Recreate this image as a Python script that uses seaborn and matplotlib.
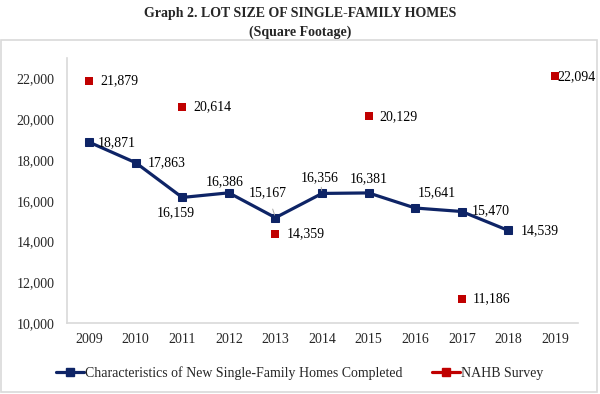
import matplotlib
matplotlib.use("Agg")
import matplotlib.pyplot as plt
import seaborn as sns
import pandas as pd
from matplotlib.patches import Rectangle
from matplotlib.lines import Line2D

years = [2009, 2010, 2011, 2012, 2013, 2014, 2015, 2016, 2017, 2018]
census_values = [18871, 17863, 16159, 16386, 15167, 16356, 16381, 15641, 15470, 14539]
nahb_years = [2009, 2011, 2013, 2015, 2017, 2019]
nahb_values = [21879, 20614, 14359, 20129, 11186, 22094]
tick_years = list(range(2009, 2020))
census_name = "Characteristics of New Single-Family Homes Completed"
nahb_name = "NAHB Survey"

sns.set_theme(style="white")
plt.rcParams["font.family"] = ["Liberation Serif", "DejaVu Serif"]

navy = "#0E2466"
red = "#C00000"

fig = plt.figure(figsize=(6.0, 3.94), dpi=100)
ax = fig.add_axes([0.112, 0.180, 0.851, 0.673])

df_c = pd.DataFrame({"year": years, "value": census_values})
df_n = pd.DataFrame({"year": nahb_years, "value": nahb_values})

sns.lineplot(data=df_c, x="year", y="value", ax=ax, color=navy, linewidth=2.3,
             marker="s", markersize=6, markeredgecolor=navy, sort=False)
sns.scatterplot(data=df_n, x="year", y="value", ax=ax, color=red, marker="s",
                s=30, edgecolor=red, linewidth=0, zorder=5)

ax.set_xlim(2008.53, 2019.49)
ax.set_ylim(10000, 23000)
ax.set_yticks(range(10000, 22001, 2000))
ax.set_yticklabels([f"{v:,}" for v in range(10000, 22001, 2000)], fontsize=10)
ax.set_xticks(tick_years)
ax.set_xticklabels([str(y) for y in tick_years], fontsize=10)
ax.set_xlabel("")
ax.set_ylabel("")
ax.tick_params(axis="y", length=0, pad=9)
ax.tick_params(axis="x", length=0, pad=7)
for s in ["top", "right"]:
    ax.spines[s].set_visible(False)
for s in ["left", "bottom"]:
    ax.spines[s].set_color("#d9d9d9")
    ax.spines[s].set_linewidth(1.2)

# label offsets in pixels (dx, dy, ha, leader)
census_off = [(9, -1, "left", False), (12, 0, "left", False), (-6, -15, "center", False),
              (-4, 11, "center", False), (-8, 25, "center", True), (-2, 16, "center", True),
              (0, 14, "center", False), (22, 15, "center", False), (10, 1, "left", False),
              (12, 0, "left", False)]
for x, v, (dx, dy, ha, lead) in zip(years, census_values, census_off):
    kw = {}
    if lead:
        kw["arrowprops"] = dict(arrowstyle="-", color="#a6a6a6", lw=0.7, shrinkA=5, shrinkB=2)
    ax.annotate(f"{v:,}", (x, v), xytext=(dx, dy), textcoords="offset pixels",
                ha=ha, va="center", fontsize=10, color="black", **kw)

for x, v in zip(nahb_years, nahb_values):
    dx = 2 if x == 2019 else 11
    ax.annotate(f"{v:,}", (x, v), xytext=(dx, 0), textcoords="offset pixels",
                ha="left", va="center", fontsize=10, color="black")

fig.text(0.5, 0.967, "Graph 2. LOT SIZE OF SINGLE-FAMILY HOMES", ha="center", va="center",
         fontsize=10, fontweight="bold")
fig.text(0.5, 0.919, "(Square Footage)", ha="center", va="center",
         fontsize=10, fontweight="bold")

fig.patches.append(Rectangle((0.002, 0.005), 0.993, 0.893, transform=fig.transFigure,
                             fill=False, edgecolor="#d9d9d9", linewidth=1.2))

handles = [Line2D([0], [0], color=navy, lw=2.3, marker="s", markersize=6),
           Line2D([0], [0], color=red, lw=2.3, marker="s", markersize=6)]
fig.legend(handles, [census_name, nahb_name], loc="center", bbox_to_anchor=(0.5, 0.053),
           ncol=2, frameon=False, fontsize=10, handlelength=2.0, handletextpad=0.1,
           columnspacing=2.1)

fig.savefig("out.png", dpi=100)
